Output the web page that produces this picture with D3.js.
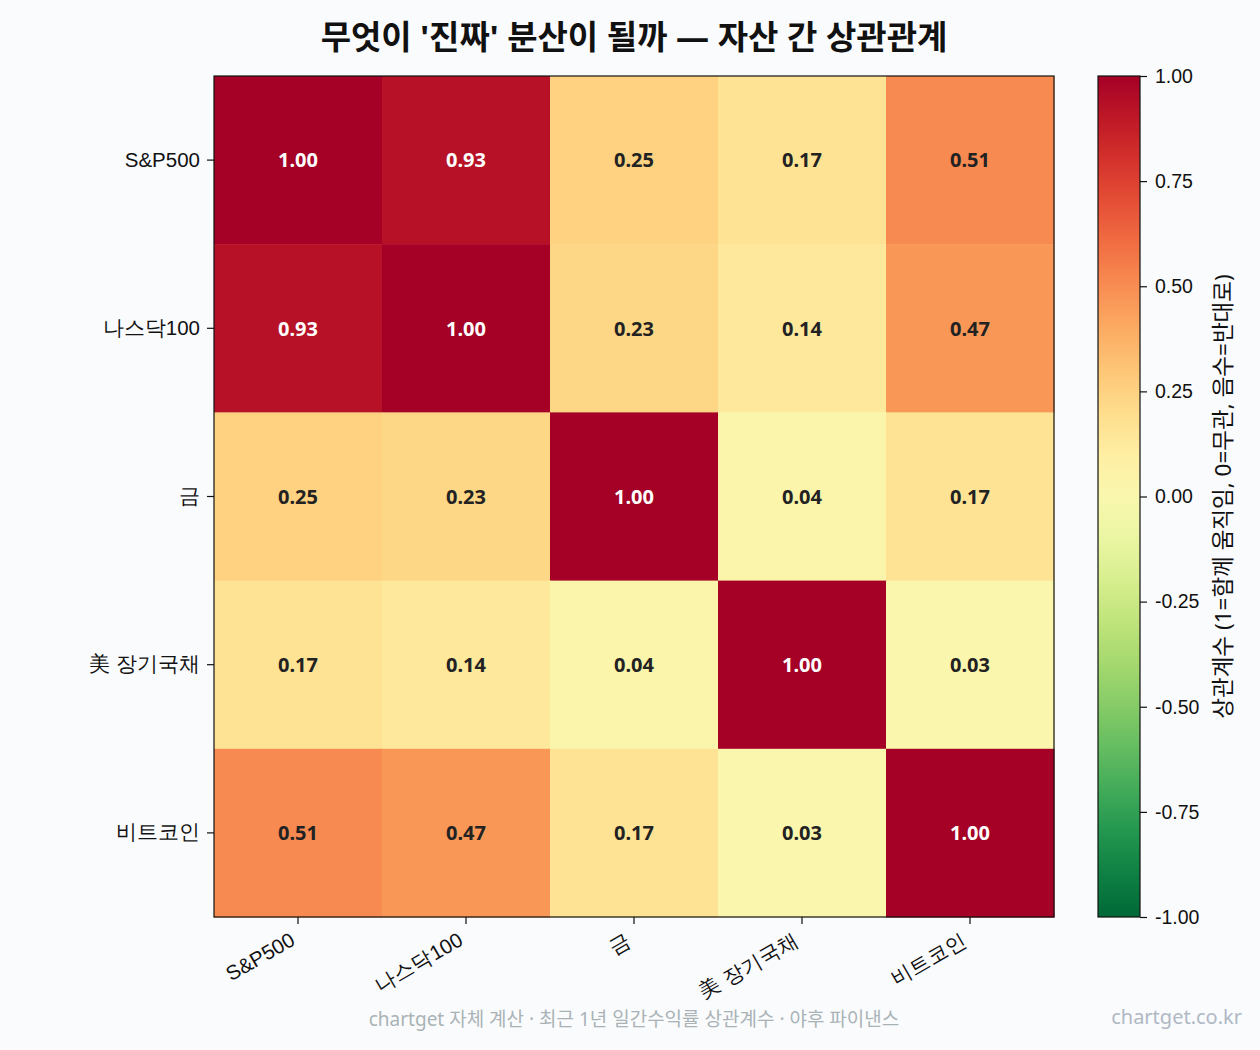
<!DOCTYPE html>
<meta charset="utf-8">
<head>
  <script src="https://d3js.org/d3.v7.min.js"></script>
  <style>
    body { margin: 0; background: #fafbfd; }
    svg { font-family: "Noto Sans", "Noto Sans CJK KR", sans-serif; }
  </style>
</head>
<body>
<svg id="heat"></svg>
<script>
  // data
  var assets = ["S&P500", "나스닥100", "금", "美 장기국채", "비트코인"];
  var corrRows = [
    [1.00, 0.93, 0.25, 0.17, 0.51],
    [0.93, 1.00, 0.23, 0.14, 0.47],
    [0.25, 0.23, 1.00, 0.04, 0.17],
    [0.17, 0.14, 0.04, 1.00, 0.03],
    [0.51, 0.47, 0.17, 0.03, 1.00]
  ];
  var cbTicks = [-1, -0.75, -0.5, -0.25, 0, 0.25, 0.5, 0.75, 1];

  var W = 1260, H = 1050;
  var plot = {left: 214, top: 76, width: 840, height: 841};
  var fs = 20.5;

  var svg = d3.select("#heat").attr("width", W).attr("height", H);
  svg.append("rect").attr("width", W).attr("height", H).attr("fill", "#fafbfd");

  // RdYlGn reversed, -1..1
  var color = function(v) { return d3.interpolateRdYlGn(1 - (v + 1) / 2); };

  var x = d3.scaleBand().domain(assets).range([plot.left, plot.left + plot.width]);
  var y = d3.scaleBand().domain(assets).range([plot.top, plot.top + plot.height]);

  var cells = [];
  corrRows.forEach(function(row, i) {
    row.forEach(function(v, j) { cells.push({r: assets[i], c: assets[j], v: v}); });
  });

  var g = svg.append("g");
  g.selectAll(".cell").data(cells).enter().append("rect")
    .attr("class", "cell")
    .attr("x", function(d) { return x(d.c); })
    .attr("y", function(d) { return y(d.r); })
    .attr("width", x.bandwidth() + 0.5)
    .attr("height", y.bandwidth() + 0.5)
    .attr("fill", function(d) { return color(d.v); });

  g.selectAll(".val").data(cells).enter().append("text")
    .attr("x", function(d) { return x(d.c) + x.bandwidth() / 2; })
    .attr("y", function(d) { return y(d.r) + y.bandwidth() / 2; })
    .attr("dy", "0.36em")
    .attr("text-anchor", "middle")
    .attr("font-size", 20)
    .attr("font-weight", "bold")
    .attr("fill", function(d) { return d.v > 0.6 ? "#ffffff" : "#222222"; })
    .text(function(d) { return d.v.toFixed(2); });

  svg.append("rect")
    .attr("x", plot.left).attr("y", plot.top)
    .attr("width", plot.width).attr("height", plot.height)
    .attr("fill", "none").attr("stroke", "#111").attr("stroke-width", 1.2);

  // axes
  var yAxis = svg.append("g")
    .attr("transform", "translate(" + plot.left + ",0)")
    .call(d3.axisLeft(y).tickSize(7).tickPadding(7));
  yAxis.select(".domain").remove();
  yAxis.selectAll("text").attr("font-size", fs).attr("fill", "#111");
  yAxis.selectAll("line").attr("stroke", "#111").attr("stroke-width", 1.2);

  var xAxis = svg.append("g")
    .attr("transform", "translate(0," + (plot.top + plot.height) + ")")
    .call(d3.axisBottom(x).tickSize(7).tickPadding(7));
  xAxis.select(".domain").remove();
  xAxis.selectAll("line").attr("stroke", "#111").attr("stroke-width", 1.2);
  xAxis.selectAll("text")
    .attr("font-size", fs).attr("fill", "#111")
    .style("text-anchor", "end")
    .attr("x", -2).attr("y", 0).attr("dy", 0)
    .attr("transform", "translate(0,26) rotate(-30)");

  // colorbar
  var cb = {left: 1098, width: 42, top: 76, height: 841};
  var defs = svg.append("defs");
  var grad = defs.append("linearGradient").attr("id", "cbgrad")
    .attr("x1", 0).attr("y1", 1).attr("x2", 0).attr("y2", 0);
  d3.range(0, 1.0001, 0.05).forEach(function(t) {
    grad.append("stop").attr("offset", t).attr("stop-color", color(-1 + 2 * t));
  });
  svg.append("rect")
    .attr("x", cb.left).attr("y", cb.top).attr("width", cb.width).attr("height", cb.height)
    .attr("fill", "url(#cbgrad)").attr("stroke", "#111").attr("stroke-width", 1.2);

  var cbScale = d3.scaleLinear().domain([-1, 1]).range([cb.top + cb.height, cb.top]);
  var cbAxis = svg.append("g")
    .attr("transform", "translate(" + (cb.left + cb.width) + ",0)")
    .call(d3.axisRight(cbScale).tickValues(cbTicks)
      .tickFormat(function(d) { return d3.format(".2f")(d).replace("−", "-"); })
      .tickSize(7).tickPadding(8));
  cbAxis.select(".domain").remove();
  cbAxis.selectAll("line").attr("stroke", "#111").attr("stroke-width", 1.2);
  cbAxis.selectAll("text").attr("font-size", 19.5).attr("fill", "#111");

  svg.append("text")
    .attr("transform", "translate(1231," + (cb.top + cb.height / 2) + ") rotate(-90)")
    .attr("text-anchor", "middle")
    .attr("font-size", 22.5).attr("fill", "#111")
    .text("상관계수 (1=함께 움직임, 0=무관, 음수=반대로)");

  // title
  svg.append("text")
    .attr("x", 634).attr("y", 49)
    .attr("text-anchor", "middle")
    .attr("font-size", 33).attr("font-weight", "bold").attr("fill", "#111")
    .text("무엇이 '진짜' 분산이 될까 — 자산 간 상관관계");

  // footer
  svg.append("text")
    .attr("x", 634).attr("y", 1026)
    .attr("text-anchor", "middle")
    .attr("font-size", 19).attr("fill", "#a9b3b6")
    .text("chartget 자체 계산 · 최근 1년 일간수익률 상관계수 · 야후 파이낸스");

  svg.append("text")
    .attr("x", 1242).attr("y", 1024)
    .attr("text-anchor", "end")
    .attr("font-size", 20).attr("fill", "#b0b8c4")
    .text("chartget.co.kr");
</script>
</body>
